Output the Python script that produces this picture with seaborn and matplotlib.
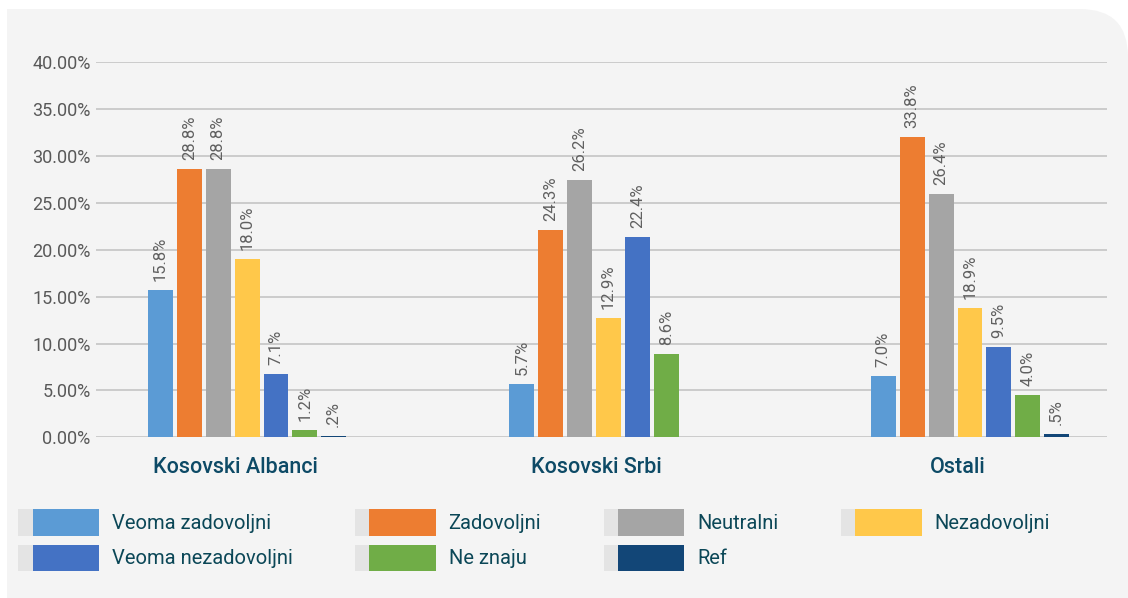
"""Zadovoljstvo po etničkoj grupi - grouped bar chart with rotated value labels"""
import matplotlib
import numpy as np
import pandas as pd
import seaborn as sns
from matplotlib import pyplot as plt
from matplotlib import transforms
from matplotlib.legend_handler import HandlerBase
from matplotlib.patches import FancyBboxPatch, Patch, Rectangle
from matplotlib.ticker import FuncFormatter, MultipleLocator

matplotlib.use("Agg")

sns.set_theme(style="white")
plt.rcParams["font.family"] = ["Roboto", "DejaVu Sans"]

# data (bar heights in %, labels as printed on the chart)
groups = ["Kosovski Albanci", "Kosovski Srbi", "Ostali"]
answers = ["Veoma zadovoljni", "Zadovoljni", "Neutralni", "Nezadovoljni",
           "Veoma nezadovoljni", "Ne znaju", "Ref"]
colors = ["#5b9bd5", "#ed7d31", "#a5a5a5", "#ffc84a", "#4472c4", "#70ad47", "#124677"]

veoma_zadovoljni = [15.7, 5.7, 6.5]
zadovoljni = [28.6, 22.1, 32.0]
neutralni = [28.6, 27.4, 26.0]
nezadovoljni = [19.0, 12.7, 13.8]
veoma_nezadovoljni = [6.8, 21.4, 9.6]
ne_znaju = [0.8, 8.9, 4.5]
ref = [0.15, np.nan, 0.35]

lab_veoma_zadovoljni = ["15.8%", "5.7%", "7.0%"]
lab_zadovoljni = ["28.8%", "24.3%", "33.8%"]
lab_neutralni = ["28.8%", "26.2%", "26.4%"]
lab_nezadovoljni = ["18.0%", "12.9%", "18.9%"]
lab_veoma_nezadovoljni = ["7.1%", "22.4%", "9.5%"]
lab_ne_znaju = ["1.2%", "8.6%", "4.0%"]
lab_ref = [".2%", "", ".5%"]

series = [veoma_zadovoljni, zadovoljni, neutralni, nezadovoljni,
          veoma_nezadovoljni, ne_znaju, ref]
series_labels = [lab_veoma_zadovoljni, lab_zadovoljni, lab_neutralni, lab_nezadovoljni,
                 lab_veoma_nezadovoljni, lab_ne_znaju, lab_ref]

rows = []
for answer, vals, labs in zip(answers, series, series_labels):
    for group, v, lab in zip(groups, vals, labs):
        rows.append(dict(group=group, answer=answer, value=v, label=lab))
df = pd.DataFrame(rows).dropna(subset=["value"])

text_dark = "#0b4757"

fig = plt.figure(figsize=(11.28, 5.98), dpi=100)
fig.patch.set_facecolor("white")

# light panel with rounded top-right corner (pixel coords)
bg = "#f4f4f4"
fig.add_artist(FancyBboxPatch((7, -60), 1121, 649, boxstyle="round,pad=0,rounding_size=48",
                              transform=None, fc=bg, ec="none", zorder=-2))
fig.add_artist(Rectangle((7, -10), 1060, 599, transform=None, fc=bg, ec="none", zorder=-2))

ax = fig.add_axes([96 / 1128, 1 - 437.3 / 598, (1107 - 96) / 1128, (437.3 - 62.3) / 598])
ax.set_facecolor("none")

sns.barplot(ax=ax, data=df, x="group", y="value", hue="answer", order=groups,
            hue_order=answers, palette=colors, width=0.56, gap=0.14,
            saturation=1, legend=False, linewidth=0)

for answer, container in zip(answers, ax.containers):
    labs = df[df["answer"] == answer]["label"].tolist()
    ax.bar_label(container, labels=labs, rotation=90, padding=6.5,
                 fontsize=12, color="#606060", clip_on=False)

ax.set_ylim(0, 40)
ax.set_xlim(-0.418, 2.379)
ax.yaxis.set_major_locator(MultipleLocator(5))
ax.yaxis.set_major_formatter(FuncFormatter(lambda v, _: f"{v:.2f}%"))
ax.grid(axis="y", color="#c4c4c4", lw=1.2)
ax.set_axisbelow(True)
for s in ax.spines.values():
    s.set_visible(False)
ax.set_xlabel("")
ax.set_ylabel("")
ax.tick_params(axis="y", length=0, pad=4, labelsize=13, labelcolor="#595959")
ax.tick_params(axis="x", length=0, pad=14, labelsize=15.5, labelcolor="#0d4a66")
# category names sit a little left of their bar groups in the original
shift = transforms.ScaledTranslation(-12 / 100, 0, fig.dpi_scale_trans)
for t in ax.get_xticklabels():
    t.set_fontweight("medium")
    t.set_transform(t.get_transform() + shift)


class StripHandler(HandlerBase):
    """legend box with a pale strip on its left side"""

    def create_artists(self, legend, orig_handle, xdescent, ydescent, width, height,
                       fontsize, trans):
        strip_w = width * 0.18
        strip = Rectangle((-xdescent, -ydescent), strip_w, height, fc="#e4e4e4",
                          ec="none", transform=trans)
        box = Rectangle((-xdescent + strip_w, -ydescent), width - strip_w, height,
                        fc=orig_handle.get_facecolor(), ec="none", transform=trans)
        return [strip, box]


# legend filled column-wise: 4 columns, 2 rows
leg_order = [0, 4, 1, 5, 2, 6, 3]
handles = [Patch(fc=colors[i], label=answers[i]) for i in leg_order]
leg = fig.legend(handles=handles, ncol=4, loc="upper left", bbox_to_anchor=(18 / 1128, 1 - 509 / 598),
                 frameon=False, fontsize=14.5, handlelength=4.0, handleheight=1.65,
                 handletextpad=0.65, columnspacing=3.1, labelspacing=0.45, borderpad=0,
                 borderaxespad=0, handler_map={Patch: StripHandler()})
for t in leg.get_texts():
    t.set_color(text_dark)

fig.savefig("out.png", dpi=100)
